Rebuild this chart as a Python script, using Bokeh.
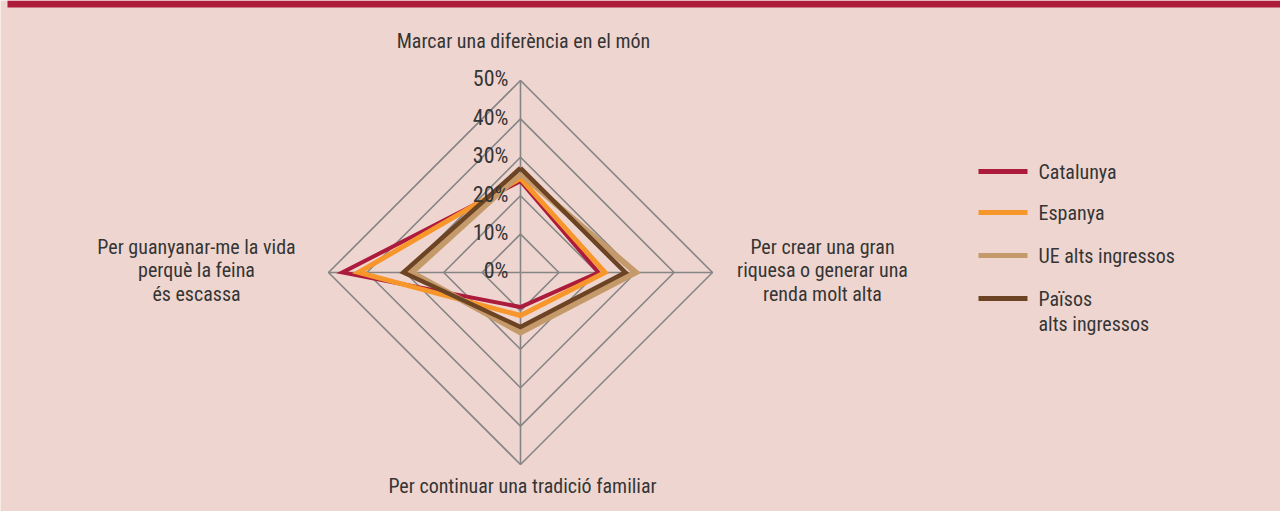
import numpy as np
from bokeh.plotting import figure
from bokeh.models import Range1d
from bokeh.core.properties import value
from bokeh.embed import file_html
from bokeh.resources import INLINE

# ---------------- data ----------------
categories = ["Marcar una diferència en el món",
              "Per crear una gran\nriquesa o generar una\nrenda molt alta",
              "Per continuar una tradició familiar",
              "Per guanyanar-me la vida\nperquè la feina\nés escassa"]
series_names = ["Catalunya", "Espanya", "UE alts ingressos", "Països\nalts ingressos"]
catalunya = [23.8, 20.3, 9.0, 46.4]
espanya = [24.5, 22.0, 11.2, 42.2]
ue_alts = [25.8, 30.0, 15.6, 28.4]
paisos_alts = [27.2, 27.3, 14.2, 30.5]
ticks = [0, 10, 20, 30, 40, 50]
tick_labels = ["0%", "10%", "20%", "30%", "40%", "50%"]

colors = ["#AC1B3B", "#F7962B", "#C49A6A", "#6C4424"]
widths = [4, 5, 6, 4.5]
all_series = [catalunya, espanya, ue_alts, paisos_alts]

# ---------------- layout ----------------
W, H = 1280, 511
PX = 3.84            # pixels per 1 %
CX, CY = 520, 272    # centre of radar in figure pixels
FONT = value("Roboto Condensed")
TXT = "#353535"
BG = "#EFD5D0"

def dx(px):  # figure pixel -> data
    return (px - CX) / PX
def dy(py):
    return (CY - py) / PX

p = figure(width=W, height=H, output_backend="svg", toolbar_location=None,
           x_range=Range1d(dx(0), dx(W)), y_range=Range1d(dy(H), dy(0)),
           min_border=0, outline_line_color=None,
           background_fill_color=BG, border_fill_color=BG)
p.axis.visible = False
p.grid.visible = False

# header band
p.quad(left=[dx(7)], right=[dx(W)], top=[dy(0)], bottom=[dy(7)],
       fill_color="#AD1C3B", line_color=None)

n = len(categories)
angles = np.pi / 2 - np.arange(n) * 2 * np.pi / n   # clockwise from top

# rings
rmax = ticks[-1]
for t in ticks[1:]:
    xs = list(t * np.cos(angles)) + [t * np.cos(angles[0])]
    ys = list(t * np.sin(angles)) + [t * np.sin(angles[0])]
    p.line(xs, ys, line_color="#858585", line_width=1.6)
# spokes
p.segment(x0=[0] * n, y0=[0] * n, x1=list(rmax * np.cos(angles)), y1=list(rmax * np.sin(angles)),
          line_color="#858585", line_width=1.6)

# series
for vals, c, w in zip(all_series, colors, widths):
    v = np.array(vals + [vals[0]])
    a = np.append(angles, angles[0])
    p.line(v * np.cos(a), v * np.sin(a), line_color=c, line_width=w, line_join="miter")

# tick labels
p.text(x=[dx(508)] * len(ticks), y=[t + 0.4 for t in ticks], text=tick_labels,
       text_align="right", text_baseline="middle", text_font=FONT,
       text_font_size="22px", text_color=TXT)

# category labels
cat_pos = [(523, 40), (822, 270), (522, 485), (196, 270)]
p.text(x=[dx(a) for a, b in cat_pos], y=[dy(b) for a, b in cat_pos], text=categories,
       text_align="center", text_baseline="middle", text_font=FONT,
       text_font_size="20px", text_color=TXT, text_line_height=0.98)

# legend (manual)
leg_y = [171, 212, 255, 298]
p.segment(x0=[dx(978)] * 4, x1=[dx(1027)] * 4, y0=[dy(y) for y in leg_y], y1=[dy(y) for y in leg_y],
          line_color=colors, line_width=5)
p.text(x=[dx(1038)] * 4, y=[dy(y) for y in leg_y], text=series_names,
       text_align="left", text_baseline="top", text_font=FONT, text_font_size="20px",
       text_color=TXT, text_line_height=1.07, y_offset=-12)

open("out.html", "w").write(file_html(p, INLINE))
